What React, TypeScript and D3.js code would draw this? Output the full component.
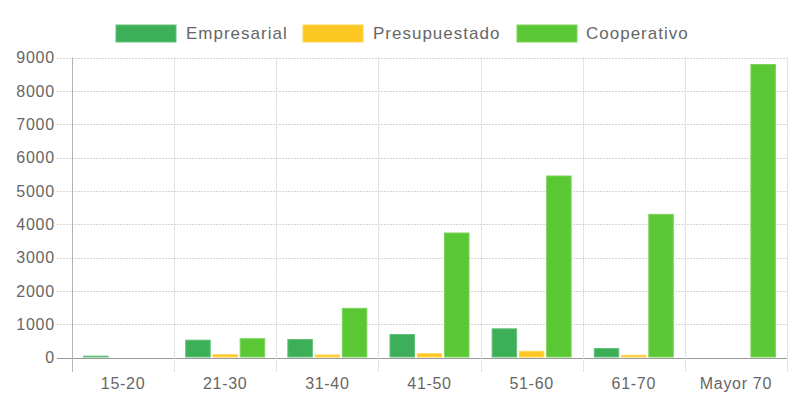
import React from "react";
import * as d3 from "d3";

const categories = ["15-20", "21-30", "31-40", "41-50", "51-60", "61-70", "Mayor 70"];
const seriesNames = ["Empresarial", "Presupuestado", "Cooperativo"];
const empresarial = [40, 520, 540, 690, 860, 270, 15];
const presupuestado = [5, 85, 75, 115, 185, 65, 8];
const cooperativo = [15, 565, 1475, 3735, 5445, 4295, 8790];
const yTicks = [0, 1000, 2000, 3000, 4000, 5000, 6000, 7000, 8000, 9000];
const colors = ["#3daf58", "#fdc823", "#5ac834"];
const borders = ["#62c07a", "#ffd451", "#7dd35d"];

const W = 807, H = 411;
const left = 72, right = 787, top = 57.5, bottom = 357.5;
const font = "Arial, 'Liberation Sans', sans-serif";

export default function App() {
  const series = [empresarial, presupuestado, cooperativo];
  const x = d3.scaleBand<string>().domain(categories).range([left, right]).paddingInner(0).paddingOuter(0);
  const inner = d3.scaleBand<string>().domain(seriesNames).range([0, x.bandwidth() * 0.8]);
  const y = d3.scaleLinear().domain([0, 9000]).range([bottom, top]);
  const bw = inner.bandwidth() * 0.9;

  const legendItems = [
    { name: seriesNames[0], bx: 116, tx: 186 },
    { name: seriesNames[1], bx: 303, tx: 373 },
    { name: seriesNames[2], bx: 517, tx: 586 },
  ];

  return (
    <svg width={W} height={H} style={{ position: "absolute", left: 0, top: 0, background: "#fff" }}>
      {yTicks.map((t) => (
        <line key={"h" + t} x1={57} x2={right} y1={Math.round(y(t)) + 0.5} y2={Math.round(y(t)) + 0.5}
          stroke={t === 0 ? "#9a9a9a" : "#d4d4d4"} strokeDasharray={t === 0 ? undefined : "2,1"} strokeWidth={1} />
      ))}
      {d3.range(categories.length + 1).map((i) => {
        const xv = Math.round(left + i * x.step()) + 0.5;
        return (
          <line key={"v" + i} x1={xv} x2={xv} y1={top} y2={372}
            stroke={i === 0 ? "#b5b5b5" : "#d4d4d4"} strokeDasharray={i === 0 ? undefined : "2,1"} />
        );
      })}
      {categories.map((c, ci) =>
        series.map((s, si) => {
          const v = s[ci];
          const bx = (x(c) as number) + x.bandwidth() * 0.1 + (inner(seriesNames[si]) as number) + inner.bandwidth() * 0.05;
          const yt = y(v);
          return (
            <rect key={c + si} x={bx} y={yt} width={bw} height={Math.max(0, bottom - 0.5 - yt)}
              fill={colors[si]} stroke={borders[si]} strokeWidth={1} />
          );
        })
      )}
      {yTicks.map((t) => (
        <text key={"yl" + t} x={55} y={y(t)} dy="0.36em" textAnchor="end" fontFamily={font}
          fontSize={16} fill="#666" letterSpacing={0.8}>{t}</text>
      ))}
      {categories.map((c) => (
        <text key={"xl" + c} x={(x(c) as number) + x.bandwidth() / 2} y={388.5} textAnchor="middle"
          fontFamily={font} fontSize={16} fill="#666" letterSpacing={0.7}>{c}</text>
      ))}
      {legendItems.map((l, i) => (
        <g key={"lg" + i}>
          <rect x={l.bx} y={25} width={60} height={17} fill={colors[i]} stroke={borders[i]} strokeWidth={1} />
          <text x={l.tx} y={38.5} fontFamily={font} fontSize={17} fill="#666" letterSpacing={1}>{l.name}</text>
        </g>
      ))}
    </svg>
  );
}
